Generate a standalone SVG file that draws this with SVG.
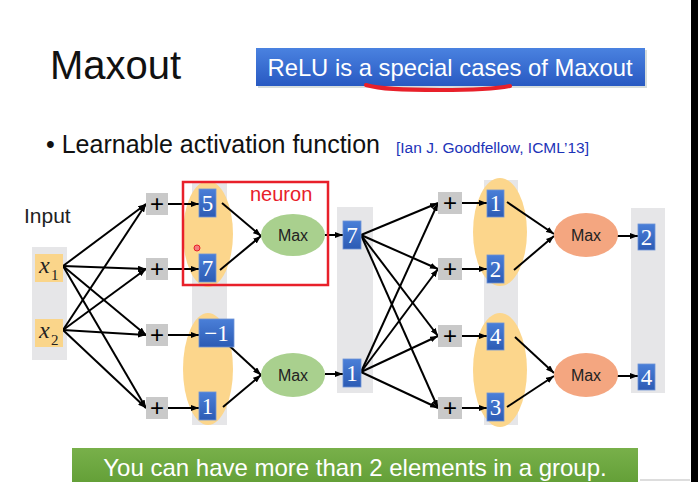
<svg xmlns="http://www.w3.org/2000/svg" width="698" height="482" viewBox="0 0 698 482">
<defs>
  <marker id="ah" markerWidth="8" markerHeight="6" refX="8" refY="3" orient="auto" markerUnits="userSpaceOnUse">
    <path d="M0,0 L8,3 L0,6 Z" fill="#000"/>
  </marker>
  <linearGradient id="bg" x1="0" y1="0" x2="0" y2="1">
    <stop offset="0" stop-color="#4A7FD8"/>
    <stop offset="1" stop-color="#2C5BB4"/>
  </linearGradient>
  <linearGradient id="banner" x1="0" y1="0" x2="0" y2="1">
    <stop offset="0" stop-color="#4A82E0"/>
    <stop offset="1" stop-color="#2859C2"/>
  </linearGradient>
  <linearGradient id="gbar" x1="0" y1="0" x2="0" y2="1">
    <stop offset="0" stop-color="#78B04A"/>
    <stop offset="1" stop-color="#64A038"/>
  </linearGradient>
</defs>
<style>
  .t { font-family: "Liberation Sans", Arial, sans-serif; }
  .col { fill: #E6E6E8; }
  .grp { fill: #FCD68C; }
  .xin { fill: #FAD58A; }
  .plus { fill: #C9C9C9; }
  .plusT { font-family: "Liberation Sans", Arial, sans-serif; font-size: 24px; fill: #000; text-anchor: middle; }
  .bb { fill: url(#bg); stroke: #6E93D6; stroke-width: 0.8; }
  .num { font-family: "Liberation Serif", "Times New Roman", serif; font-size: 23px; fill: #fff; text-anchor: middle; }
  .maxG { fill: #A9D08E; }
  .maxO { fill: #F4A680; }
  .maxT { font-family: "Liberation Sans", Arial, sans-serif; font-size: 16px; fill: #222; text-anchor: middle; }
  .e { stroke: #000; stroke-width: 2; fill: none; marker-end: url(#ah); }
  .xT { font-family: "Liberation Serif", "Times New Roman", serif; font-style: italic; font-size: 24px; fill: #222; }
  .sub { font-family: "Liberation Serif", "Times New Roman", serif; font-size: 15px; fill: #222; }
</style>
<rect width="698" height="482" fill="#fff"/>
<rect x="691" y="0" width="7" height="482" fill="#000"/>
<line x1="640" y1="480" x2="690" y2="480" stroke="#bbb" stroke-width="1"/>

<text class="t" x="50" y="79" font-size="40" fill="#111">Maxout</text>

<g id="banner">
  <rect x="258" y="50" width="389" height="38" fill="#9aa" opacity="0.4"/>
  <rect x="256" y="48" width="389" height="38" fill="url(#banner)"/>
  <text class="t" x="450" y="76" font-size="23.8" fill="#fff" text-anchor="middle">ReLU is a special cases of Maxout</text>
</g>
<path d="M366,85 C380,89 400,90 440,90 C470,90 495,89 510,86" stroke="#E8202A" stroke-width="4" fill="none" stroke-linecap="round"/>

<text class="t" x="46" y="153" font-size="25" fill="#111">• Learnable activation function</text>
<text class="t" x="396" y="153" font-size="15.5" fill="#1C33B8">[Ian J. Goodfellow, ICML’13]</text>

<text class="t" x="24" y="223" font-size="21" fill="#222">Input</text>

<!-- gray columns -->
<rect class="col" x="32" y="247" width="35" height="113"/>
<rect class="col" x="192" y="183" width="35" height="242"/>
<rect class="col" x="337" y="207" width="36" height="186"/>
<rect class="col" x="484" y="180" width="34" height="245"/>
<rect class="col" x="631" y="208" width="34" height="185"/>

<!-- groups -->
<ellipse class="grp" cx="208" cy="234" rx="25" ry="53"/>
<ellipse class="grp" cx="208" cy="369" rx="25" ry="56"/>
<ellipse class="grp" cx="500" cy="232" rx="27" ry="54"/>
<ellipse class="grp" cx="500" cy="370" rx="27" ry="57"/>

<g id="connectors">
  <line class="e" x1="63" y1="266" x2="146" y2="204"/>
  <line class="e" x1="63" y1="266" x2="146" y2="269"/>
  <line class="e" x1="63" y1="266" x2="146" y2="335"/>
  <line class="e" x1="63" y1="266" x2="146" y2="408"/>
  <line class="e" x1="63" y1="330" x2="146" y2="204"/>
  <line class="e" x1="63" y1="330" x2="146" y2="269"/>
  <line class="e" x1="63" y1="330" x2="146" y2="335"/>
  <line class="e" x1="63" y1="330" x2="146" y2="408"/>
  <line class="e" x1="168" y1="204" x2="199" y2="204"/>
  <line class="e" x1="168" y1="269" x2="199" y2="269"/>
  <line class="e" x1="168" y1="335" x2="199" y2="335"/>
  <line class="e" x1="168" y1="408" x2="199" y2="408"/>
  <line class="e" x1="222" y1="203" x2="261" y2="236"/>
  <line class="e" x1="220" y1="270" x2="261" y2="236"/>
  <line class="e" x1="222" y1="339" x2="261" y2="375"/>
  <line class="e" x1="223" y1="407" x2="261" y2="375"/>
  <line class="e" x1="325" y1="235" x2="343" y2="235"/>
  <line class="e" x1="325" y1="374" x2="343" y2="374"/>
  <line class="e" x1="361" y1="235" x2="438" y2="203"/>
  <line class="e" x1="361" y1="235" x2="438" y2="269"/>
  <line class="e" x1="361" y1="235" x2="438" y2="336"/>
  <line class="e" x1="361" y1="235" x2="438" y2="408"/>
  <line class="e" x1="361" y1="372" x2="438" y2="203"/>
  <line class="e" x1="361" y1="372" x2="438" y2="269"/>
  <line class="e" x1="361" y1="372" x2="438" y2="336"/>
  <line class="e" x1="361" y1="372" x2="438" y2="408"/>
  <line class="e" x1="462" y1="203" x2="487" y2="203"/>
  <line class="e" x1="462" y1="269" x2="487" y2="269"/>
  <line class="e" x1="462" y1="336" x2="487" y2="336"/>
  <line class="e" x1="462" y1="408" x2="487" y2="408"/>
  <line class="e" x1="507" y1="202" x2="554" y2="234"/>
  <line class="e" x1="514" y1="270" x2="554" y2="236"/>
  <line class="e" x1="515" y1="337" x2="554" y2="373"/>
  <line class="e" x1="507" y1="407" x2="554" y2="376"/>
  <line class="e" x1="617" y1="236" x2="638" y2="236"/>
  <line class="e" x1="617" y1="376" x2="638" y2="376"/>
</g>

<!-- inputs -->
<g id="x1"><rect class="xin" x="35" y="254" width="28" height="28"/><text class="xT" x="39" y="273">x</text><text class="sub" x="51" y="280">1</text></g>
<g id="x2"><rect class="xin" x="35" y="319" width="28" height="28"/><text class="xT" x="39" y="338">x</text><text class="sub" x="51" y="345">2</text></g>

<!-- plus boxes layer 1 -->
<g id="p1"><rect class="plus" x="146" y="193" width="22" height="22"/><text class="plusT" x="157" y="212">+</text></g>
<g id="p2"><rect class="plus" x="146" y="258" width="22" height="22"/><text class="plusT" x="157" y="277">+</text></g>
<g id="p3"><rect class="plus" x="146" y="324" width="22" height="22"/><text class="plusT" x="157" y="343">+</text></g>
<g id="p4"><rect class="plus" x="146" y="397" width="22" height="22"/><text class="plusT" x="157" y="416">+</text></g>

<!-- layer 1 values -->
<g id="v5"><rect class="bb" x="199" y="189" width="17" height="28"/><text class="num" x="207.5" y="211">5</text></g>
<g id="v7"><rect class="bb" x="199" y="254" width="17" height="28"/><text class="num" x="207.5" y="276">7</text></g>
<g id="vm1"><rect class="bb" x="199" y="319" width="35" height="28"/><text class="num" x="216.5" y="341">−1</text></g>
<g id="v1"><rect class="bb" x="199" y="392" width="17" height="28"/><text class="num" x="207.5" y="414">1</text></g>

<g id="neuron">
  <rect x="183" y="182" width="145" height="103" fill="none" stroke="#E8202A" stroke-width="2.5"/>
  <text class="t" x="250" y="201" font-size="20" fill="#E8202A">neuron</text>
</g>
<circle cx="197" cy="248" r="3" fill="#F47C7C" stroke="#E8202A" stroke-width="1"/>

<g id="max1"><ellipse class="maxG" cx="293" cy="235" rx="32" ry="21"/><text class="maxT" x="293" y="241">Max</text></g>
<g id="max2"><ellipse class="maxG" cx="293" cy="375" rx="32" ry="22"/><text class="maxT" x="293" y="381">Max</text></g>

<g id="h7"><rect class="bb" x="343" y="221" width="18" height="28"/><text class="num" x="352" y="243">7</text></g>
<g id="h1"><rect class="bb" x="343" y="359" width="18" height="28"/><text class="num" x="352" y="381">1</text></g>

<!-- plus boxes layer 2 -->
<g id="q1"><rect class="plus" x="438" y="192" width="24" height="22"/><text class="plusT" x="450" y="211">+</text></g>
<g id="q2"><rect class="plus" x="438" y="258" width="24" height="22"/><text class="plusT" x="450" y="277">+</text></g>
<g id="q3"><rect class="plus" x="438" y="325" width="24" height="22"/><text class="plusT" x="450" y="344">+</text></g>
<g id="q4"><rect class="plus" x="438" y="397" width="24" height="22"/><text class="plusT" x="450" y="416">+</text></g>

<g id="w1"><rect class="bb" x="487" y="190" width="17" height="27"/><text class="num" x="495.5" y="211">1</text></g>
<g id="w2"><rect class="bb" x="487" y="255" width="17" height="28"/><text class="num" x="495.5" y="277">2</text></g>
<g id="w4"><rect class="bb" x="487" y="323" width="17" height="27"/><text class="num" x="495.5" y="344">4</text></g>
<g id="w3"><rect class="bb" x="487" y="393" width="17" height="28"/><text class="num" x="495.5" y="415">3</text></g>

<g id="max3"><ellipse class="maxO" cx="586" cy="235" rx="32" ry="22"/><text class="maxT" x="586" y="241">Max</text></g>
<g id="max4"><ellipse class="maxO" cx="586" cy="375" rx="32" ry="22"/><text class="maxT" x="586" y="381">Max</text></g>

<g id="o2"><rect class="bb" x="638" y="224" width="17" height="26"/><text class="num" x="646.5" y="245">2</text></g>
<g id="o4"><rect class="bb" x="638" y="364" width="17" height="26"/><text class="num" x="646.5" y="385">4</text></g>

<g id="note">
  <rect x="72" y="448" width="566" height="34" fill="url(#gbar)"/>
  <text class="t" x="355" y="476" font-size="24" fill="#fff" text-anchor="middle">You can have more than 2 elements in a group.</text>
</g>
</svg>
